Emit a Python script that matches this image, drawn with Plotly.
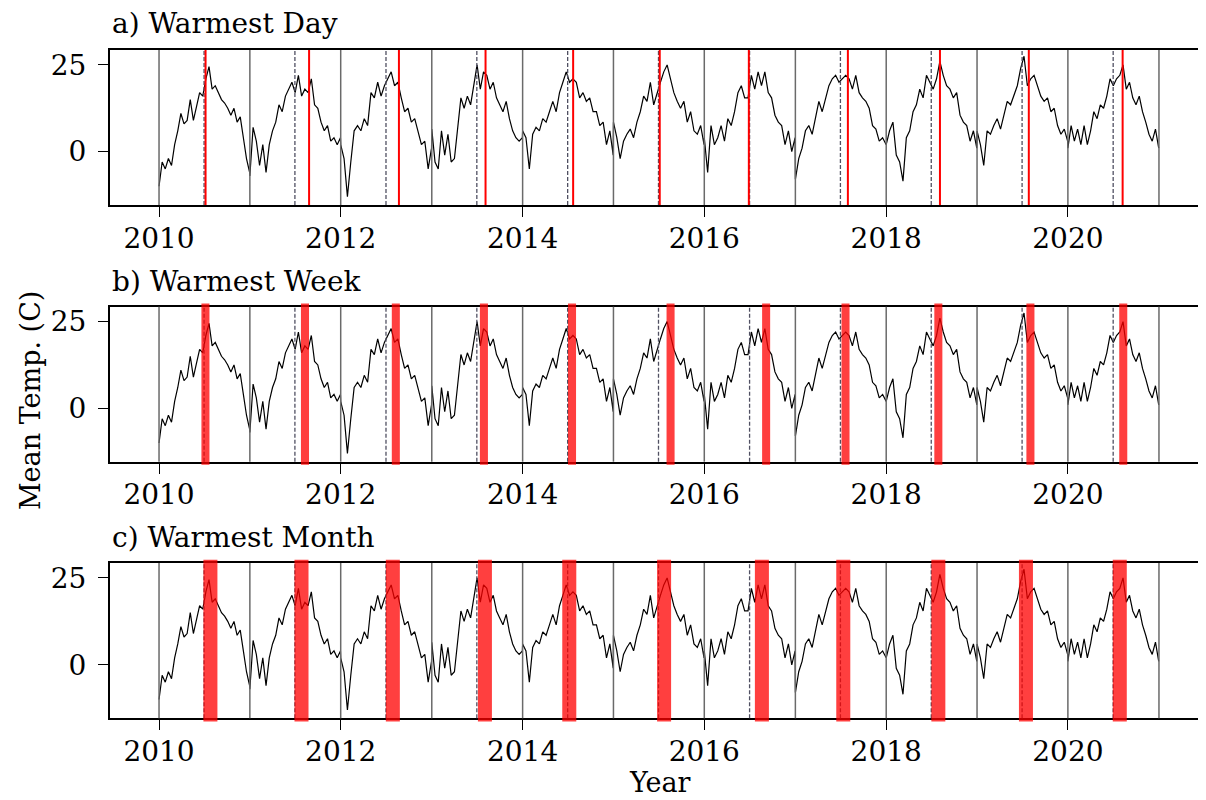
import datetime as dt
import plotly.graph_objects as go

# ---- Data (deg C, roughly every ~13 days) ----
temps_2010 = [-10, -3, -5, -2, -4, 2, 6, 11, 8, 9, 15, 9, 13, 17, 16, 21, 24.5, 18, 19, 17, 15, 14, 12.5, 10.5, 12.5, 8.5, 10, 4, -2, -6]
temps_2011 = [-7, 7, 3, -4, 2, -6, 2, 6, 8.5, 13.5, 11.5, 16, 18, 20, 17, 22, 16, 18, 17, 21, 13.5, 12.5, 8.5, 6, 7.5, 3, 4, 2, 4]
temps_2012 = [2, -2, -13, -3, 6, 7.5, 6, 9.5, 7.5, 17, 15.5, 20, 16, 19, 21, 23, 19, 20, 15.5, 11.5, 12.5, 8.5, 9.5, 6, 2, 3, -5, 1]
temps_2013 = [6.5, -3, -5, 6, -1, 5, -3, -2, 7.5, 15.5, 12.5, 16, 13.5, 19, 25, 18, 23, 22, 18, 20, 15.5, 13.5, 11.5, 14.5, 9.5, 6, 4, 3, 4]
temps_2014 = [6, 4, -5, 5, 7, 6, 9.5, 8.5, 11.5, 14.5, 11.5, 17, 20, 23, 20, 21, 20, 15.5, 17, 14.5, 15.5, 11.5, 11.5, 7.5, 8.5, 2, 6, -1]
temps_2015 = [8.5, 4, -2, 3, 5, 6.5, 4, 8.5, 11.5, 16, 14.5, 20, 13.5, 17, 20, 23, 25, 21, 17, 14.5, 12.5, 14.5, 8.5, 11.5, 6, 5, 7.5, 2]
temps_2016 = [4, -6, 7.5, 2, 4, 7.5, 3, 9.5, 7.5, 11.5, 17, 19, 15.5, 15.5, 22, 18, 23, 19, 23, 17, 15.5, 10.5, 8.5, 7.5, 2, 6, 0, 4]
temps_2017 = [-8, -2, 1, 6, 7.5, 5, 9.5, 14.5, 11.5, 15.5, 19, 21, 22, 20, 21, 22, 21, 18, 22, 17, 15.5, 14.5, 12.5, 7.5, 6.5, 3, 4, 2]
temps_2018 = [2, 6, 8.5, -1, -3, -8.5, 4, 6, 11.5, 13.5, 18, 15.5, 22, 20, 18, 21, 26, 22, 19, 18, 15.5, 17, 10.5, 8.5, 7.5, 3, 6, 1]
temps_2019 = [6, 2, -4, 6, 5, 7.5, 9.5, 6.5, 10.5, 14.5, 13.5, 16, 19, 24, 27.5, 19, 21, 22, 19, 16, 14.5, 15.5, 11.5, 12.5, 7.5, 5, 6.5, 3]
temps_2020 = [1, 7.5, 3, 6.5, 2, 7.5, 2, 6, 11.5, 9.5, 13.5, 12.5, 16, 21, 19, 21, 22, 25, 18, 20, 15.5, 13.5, 16, 11.5, 8.5, 5, 3, 6.5, 1]

years = list(range(2010, 2021))
yearly_temps = [temps_2010, temps_2011, temps_2012, temps_2013, temps_2014, temps_2015,
                temps_2016, temps_2017, temps_2018, temps_2019, temps_2020]

warmest_day = ["2010-07-07", "2011-08-27", "2012-08-22", "2013-08-05", "2014-07-23", "2015-07-06",
               "2016-06-28", "2017-07-31", "2018-08-05", "2019-07-28", "2020-08-08"]
warmest_week_start = ["2010-07-03", "2011-08-07", "2012-08-06", "2013-07-26", "2014-07-15", "2015-08-15",
                      "2016-09-02", "2017-07-18", "2018-07-26", "2019-07-31", "2020-08-07"]
warmest_month_start = ["2010-07-11", "2011-07-12", "2012-07-13", "2013-07-18", "2014-06-22", "2015-07-08",
                       "2016-08-04", "2017-06-27", "2018-07-14", "2019-07-01", "2020-07-12"]

panel_titles = ["a) Warmest Day", "b) Warmest Week", "c) Warmest Month"]
xtick_years = [2010, 2012, 2014, 2016, 2018, 2020]
ytick_vals = [0, 25]

# ---- Build the time series ----
dates, temps = [], []
for y, vals in zip(years, yearly_temps):
    start = dt.datetime(y, 1, 1)
    ndays = (dt.datetime(y + 1, 1, 1) - start).days
    n = len(vals)
    for i, v in enumerate(vals):
        dates.append(start + dt.timedelta(days=i * (ndays - 1) / (n - 1)))
        temps.append(v)

FONT = "DejaVu Serif"
FS = 28
fig = go.Figure()

# page has an 8px body margin: figure is 1198x792 placed at (8, 8)
domains = [[0.75126, 0.94697], [0.42715, 0.62285], [0.10316, 0.29924]]
title_y = [0.9798, 0.6544, 0.3314]

for k in range(3):
    sfx = "" if k == 0 else str(k + 1)
    fig.add_trace(go.Scatter(x=dates, y=temps, mode="lines",
                             line=dict(color="black", width=1.2),
                             xaxis="x" + sfx, yaxis="y" + sfx, showlegend=False))
    fig.update_layout(**{
        "xaxis" + sfx: dict(
            domain=[0, 1], anchor="y" + sfx, type="date",
            range=["2009-06-18", "2021-07-09"],
            tickvals=[dt.datetime(y, 1, 1) for y in xtick_years],
            ticktext=[str(y) for y in xtick_years],
            ticks="outside", ticklen=10, tickwidth=1.3, tickcolor="black",
            ticklabelstandoff=-3,
            showline=True, linecolor="black", linewidth=2, mirror=True,
            showgrid=False, zeroline=False,
            tickfont=dict(family=FONT, size=FS, color="black")),
        "yaxis" + sfx: dict(
            domain=domains[k], anchor="x" + sfx,
            range=[-15.4, 29.3], tickvals=ytick_vals,
            ticks="outside", ticklen=10, tickwidth=1.3, tickcolor="black",
            ticklabelstandoff=6,
            showline=True, linecolor="black", linewidth=2, mirror=False,
            showgrid=False, zeroline=False,
            tickfont=dict(family=FONT, size=FS, color="black")),
    })
    xr = "x" + sfx
    yr = "y" + sfx + " domain"
    # year boundaries
    for y in range(2010, 2022):
        fig.add_shape(type="line", xref=xr, yref=yr, x0=dt.datetime(y, 1, 1), x1=dt.datetime(y, 1, 1),
                      y0=0, y1=1, line=dict(color="#6a6a6a", width=1.5), layer="above")
    # mid-year dashed markers
    for y in years:
        fig.add_shape(type="line", xref=xr, yref=yr, x0=dt.datetime(y, 7, 1), x1=dt.datetime(y, 7, 1),
                      y0=0, y1=1, line=dict(color="#505062", width=1.3, dash="4px,2px"), layer="above")
    # warmest period markers
    if k == 0:
        for d in warmest_day:
            fig.add_shape(type="line", xref=xr, yref=yr, x0=d, x1=d, y0=0, y1=1,
                          line=dict(color="red", width=2), layer="above")
    else:
        starts = warmest_week_start if k == 1 else warmest_month_start
        length = 7 if k == 1 else 31
        for s in starts:
            d0 = dt.datetime.fromisoformat(s)
            d1 = d0 + dt.timedelta(days=length)
            fig.add_shape(type="rect", xref=xr, yref=yr, x0=d0, x1=d1, y0=0, y1=1,
                          fillcolor="red", line=dict(color="red", width=6.3),
                          opacity=0.75, layer="above")
    fig.add_annotation(text=panel_titles[k], xref="paper", yref="paper", x=0, y=title_y[k],
                       xanchor="left", yanchor="middle", showarrow=False,
                       font=dict(family=FONT, size=FS, color="black"))

fig.add_annotation(text="Mean Temp. (C)", xref="paper", yref="paper", x=-0.073, y=0.505,
                   textangle=-90, xanchor="center", yanchor="middle", showarrow=False,
                   font=dict(family=FONT, size=27, color="black"))
fig.add_annotation(text="Year", xref="paper", yref="paper", x=0.5018, y=0.0,
                   xanchor="center", yanchor="bottom", showarrow=False,
                   font=dict(family=FONT, size=27, color="black"))

fig.update_layout(width=1198, height=792, margin=dict(l=102, r=0, t=0, b=0),
                  paper_bgcolor="white", plot_bgcolor="white",
                  font=dict(family=FONT, size=FS, color="black"))

fig.write_html("out.html")
